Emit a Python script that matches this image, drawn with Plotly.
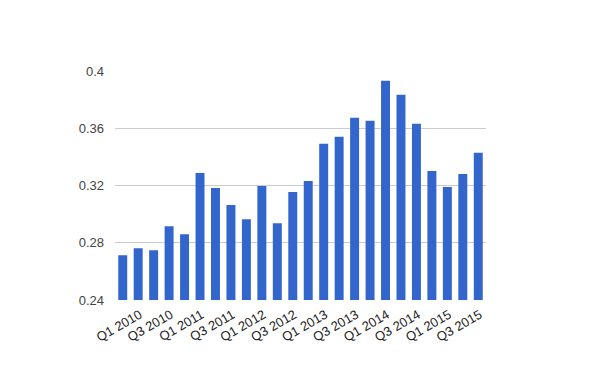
import plotly.graph_objects as go

quarters = [f"Q{q} {y}" for y in range(2010, 2016) for q in range(1, 5)]
values = [0.2713, 0.2762, 0.2748, 0.2916, 0.2860, 0.3288, 0.3182, 0.3063,
          0.2965, 0.3196, 0.2937, 0.3154, 0.3232, 0.3491, 0.3540, 0.3673,
          0.3652, 0.3932, 0.3834, 0.3631, 0.3302, 0.3190, 0.3281, 0.3428]
y_ticks = [0.24, 0.28, 0.32, 0.36, 0.4]
y_tick_text = ["0.24", "0.28", "0.32", "0.36", "0.4"]

fig = go.Figure(go.Bar(x=quarters, y=values, marker_color="#3366cc",
                       marker_line_width=0))

fig.update_layout(
    width=600, height=371,
    margin=dict(l=115, r=114, t=71, b=71),
    paper_bgcolor="white", plot_bgcolor="white",
    bargap=0.42,
    showlegend=False,
    font=dict(family="Liberation Sans, Arial, sans-serif", size=13, color="#444444"),
)
fig.update_xaxes(
    tickmode="array", tickvals=quarters[::2], ticktext=quarters[::2],
    tickangle=-30, showgrid=False, showline=False, ticks="",
    ticklabelshift=17, ticklabelstandoff=4,
    tickfont=dict(size=13, color="#222222"),
)
fig.update_yaxes(
    range=[0.24, 0.4], tickvals=y_ticks, ticktext=y_tick_text,
    showgrid=True, gridcolor="#cccccc", gridwidth=1, zeroline=False,
    showline=False, ticks="", ticklabelstandoff=10,
    tickfont=dict(size=13, color="#444444"),
)

fig.write_html("out.html")
